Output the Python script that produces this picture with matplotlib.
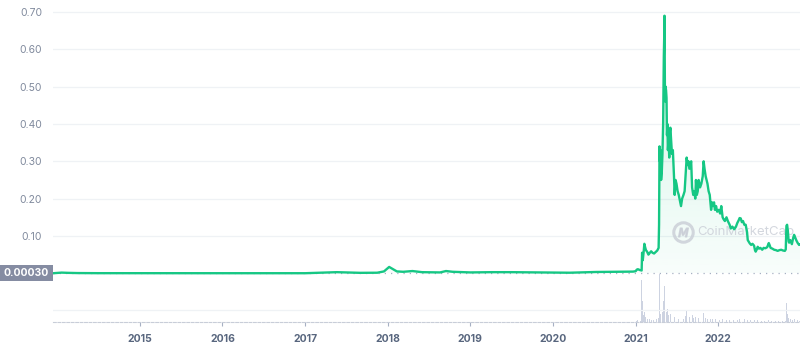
import matplotlib
matplotlib.use("Agg")
import matplotlib.pyplot as plt
import matplotlib.dates as mdates
import matplotlib.transforms as mtransforms
from matplotlib.patches import Rectangle, Polygon
import numpy as np
import pandas as pd

plt.rcParams['font.family'] = ['Inter', 'DejaVu Sans']

# price (USD)
price_dates = [
    "2013-12-15", "2014-01-20", "2014-02-15", "2014-04-01", "2014-07-01", "2015-01-01",
    "2016-01-01", "2017-01-01", "2017-05-20", "2017-06-15", "2017-09-01", "2017-11-15",
    "2017-12-15", "2018-01-07", "2018-02-10", "2018-03-10", "2018-04-20", "2018-06-01",
    "2018-08-20", "2018-09-15", "2018-10-15", "2019-01-01", "2019-04-05", "2019-07-01",
    "2019-12-31", "2020-03-15", "2020-07-10", "2020-12-20",
    "2021-01-01", "2021-01-05", "2021-01-10", "2021-01-20", "2021-01-27", "2021-01-28",
    "2021-01-29", "2021-02-01", "2021-02-05", "2021-02-08", "2021-02-11", "2021-02-15",
    "2021-02-20", "2021-02-26", "2021-03-03", "2021-03-10", "2021-03-16", "2021-03-23",
    "2021-03-30", "2021-04-06", "2021-04-12", "2021-04-14", "2021-04-16", "2021-04-18",
    "2021-04-20", "2021-04-23", "2021-04-26", "2021-04-29", "2021-05-02", "2021-05-05",
    "2021-05-07", "2021-05-08", "2021-05-09", "2021-05-10", "2021-05-12", "2021-05-13",
    "2021-05-15", "2021-05-17", "2021-05-19", "2021-05-21", "2021-05-23", "2021-05-26",
    "2021-05-29", "2021-06-01", "2021-06-03", "2021-06-07", "2021-06-10", "2021-06-14",
    "2021-06-19", "2021-06-22", "2021-06-26", "2021-06-30", "2021-07-05", "2021-07-10",
    "2021-07-15", "2021-07-20", "2021-07-25", "2021-07-31", "2021-08-05", "2021-08-10",
    "2021-08-14", "2021-08-18", "2021-08-22", "2021-08-26", "2021-08-30", "2021-09-03",
    "2021-09-07", "2021-09-12", "2021-09-17", "2021-09-21", "2021-09-24", "2021-09-28",
    "2021-10-02", "2021-10-06", "2021-10-12", "2021-10-18", "2021-10-24", "2021-10-28",
    "2021-11-01", "2021-11-06", "2021-11-10", "2021-11-14", "2021-11-19", "2021-11-24",
    "2021-11-30", "2021-12-04", "2021-12-08", "2021-12-13", "2021-12-17", "2021-12-22",
    "2021-12-27", "2022-01-03", "2022-01-09", "2022-01-14", "2022-01-20", "2022-01-24",
    "2022-01-30", "2022-02-06", "2022-02-12", "2022-02-20", "2022-02-25", "2022-03-04",
    "2022-03-12", "2022-03-20", "2022-03-26", "2022-04-01", "2022-04-05", "2022-04-10",
    "2022-04-15", "2022-04-20", "2022-04-26", "2022-05-02", "2022-05-08", "2022-05-11",
    "2022-05-15", "2022-05-20", "2022-05-26", "2022-06-01", "2022-06-08", "2022-06-12",
    "2022-06-15", "2022-06-20", "2022-06-24", "2022-06-30", "2022-07-06", "2022-07-14",
    "2022-07-20", "2022-07-28", "2022-08-05", "2022-08-12", "2022-08-16", "2022-08-20",
    "2022-08-28", "2022-09-05", "2022-09-13", "2022-09-20", "2022-09-28", "2022-10-06",
    "2022-10-14", "2022-10-22", "2022-10-26", "2022-10-29", "2022-11-01", "2022-11-04",
    "2022-11-08", "2022-11-10", "2022-11-15", "2022-11-22", "2022-11-28", "2022-12-02",
    "2022-12-06", "2022-12-12", "2022-12-18", "2022-12-24", "2022-12-28",
]
price_values = [
    0.0002, 0.0018, 0.0012, 0.0006, 0.0003, 0.0002,
    0.0002, 0.0002, 0.003, 0.0025, 0.0012, 0.0015,
    0.005, 0.017, 0.005, 0.004, 0.006, 0.003,
    0.0023, 0.006, 0.004, 0.0023, 0.003, 0.003,
    0.002, 0.0015, 0.0035, 0.0045,
    0.0057, 0.0095, 0.011, 0.0085, 0.0075, 0.034,
    0.055, 0.035, 0.058, 0.079, 0.071, 0.062,
    0.058, 0.050, 0.054, 0.059, 0.055, 0.053,
    0.057, 0.061, 0.068, 0.13, 0.34, 0.30,
    0.33, 0.25, 0.27, 0.32, 0.40, 0.58,
    0.64, 0.69, 0.57, 0.48, 0.46, 0.50,
    0.49, 0.47, 0.37, 0.40, 0.33, 0.36,
    0.31, 0.38, 0.39, 0.35, 0.32, 0.33,
    0.26, 0.21, 0.25, 0.24, 0.22, 0.21,
    0.195, 0.18, 0.20, 0.21, 0.22, 0.27,
    0.31, 0.29, 0.30, 0.28, 0.29, 0.30,
    0.23, 0.21, 0.22, 0.20, 0.25, 0.21,
    0.22, 0.25, 0.23, 0.24, 0.26, 0.30,
    0.28, 0.26, 0.25, 0.24, 0.22, 0.21,
    0.17, 0.19, 0.18, 0.19, 0.17, 0.18,
    0.165, 0.17, 0.16, 0.18, 0.15, 0.145,
    0.14, 0.15, 0.14, 0.13, 0.12, 0.125,
    0.118, 0.125, 0.135, 0.142, 0.148, 0.147,
    0.137, 0.140, 0.13, 0.13, 0.11, 0.089,
    0.085, 0.080, 0.076, 0.079, 0.074, 0.062,
    0.058, 0.064, 0.071, 0.066, 0.068, 0.063,
    0.068, 0.067, 0.070, 0.081, 0.075, 0.068,
    0.066, 0.063, 0.062, 0.060, 0.062, 0.063,
    0.061, 0.060, 0.064, 0.127, 0.13, 0.115,
    0.085, 0.082, 0.089, 0.078, 0.095, 0.103,
    0.097, 0.088, 0.081, 0.076, 0.077,
]

# volume (billion USD)
volume_dates = [
    "2021-01-03", "2021-01-10", "2021-01-20", "2021-01-28", "2021-01-30", "2021-02-04",
    "2021-02-08", "2021-02-12", "2021-02-20", "2021-03-01", "2021-03-10", "2021-03-20",
    "2021-04-01", "2021-04-10", "2021-04-15", "2021-04-16", "2021-04-18", "2021-04-22",
    "2021-04-28", "2021-05-05", "2021-05-08", "2021-05-10", "2021-05-15", "2021-05-20",
    "2021-05-26", "2021-06-02", "2021-06-10", "2021-06-20", "2021-06-28", "2021-07-08",
    "2021-07-20", "2021-08-01", "2021-08-08", "2021-08-14", "2021-08-20", "2021-08-28",
    "2021-09-07", "2021-09-15", "2021-09-24", "2021-10-05", "2021-10-12", "2021-10-28",
    "2021-11-05", "2021-11-15", "2021-11-28", "2021-12-06", "2021-12-20", "2022-01-05",
    "2022-01-20", "2022-02-05", "2022-02-20", "2022-03-10", "2022-03-28", "2022-04-05",
    "2022-04-25", "2022-05-10", "2022-05-25", "2022-06-10", "2022-06-25", "2022-07-10",
    "2022-07-25", "2022-08-12", "2022-08-25", "2022-09-10", "2022-09-25", "2022-10-10",
    "2022-10-24", "2022-10-29", "2022-11-01", "2022-11-08", "2022-11-15", "2022-11-25",
    "2022-12-05", "2022-12-15", "2022-12-25",
]
volume_values = [
    1.0, 2.5, 1.5, 60, 30, 10,
    14, 7, 5, 4, 3, 3,
    4, 6, 28, 69, 20, 12,
    14, 30, 52, 24, 14, 18,
    10, 12, 8, 7, 6, 5,
    6, 5, 9, 17, 8, 7,
    10, 6, 7, 6, 5, 13,
    6, 5, 4, 5, 4, 3.5,
    4, 3, 3, 2.5, 3, 4.5,
    4, 3.5, 2.5, 2.5, 2.5, 2,
    2, 3, 2, 2, 1.8, 1.5,
    2, 27, 12, 6, 4, 3,
    4, 2.5, 2,
]

year_ticks = ["2015", "2016", "2017", "2018", "2019", "2020", "2021", "2022"]
price_ticks = [0.10, 0.20, 0.30, 0.40, 0.50, 0.60, 0.70]
current_label = 0.0003

green = "#16c784"
grid_c = "#eff2f5"
axis_txt = "#808a9d"

px = pd.to_datetime(price_dates)
pv = np.array(price_values)
vx = pd.to_datetime(volume_dates)
vv = np.array(volume_values)

fig = plt.figure(figsize=(8, 3.44), dpi=100)
ax = fig.add_axes([53 / 800, 22 / 344, 747 / 800, 322 / 344])
axv = fig.add_axes([53 / 800, 22 / 344, 747 / 800, 48 / 344], sharex=ax)
axv.patch.set_alpha(0)

x0, x1 = pd.Timestamp("2013-12-13"), pd.Timestamp("2022-12-28")
ax.set_xlim(x0, x1)
ax.set_ylim(-0.1305, 0.7321)

# price grid
ax.set_yticks(price_ticks)
ax.set_yticklabels([f"{t:.2f}" for t in price_ticks])
ax.grid(axis="y", color=grid_c, linewidth=0.9)
ax.set_axisbelow(True)
ax.tick_params(axis="y", length=0, pad=8, labelsize=7.5, labelcolor=axis_txt)
ax.tick_params(axis="x", bottom=False, labelbottom=False)
for s in ax.spines.values():
    s.set_visible(False)

# gradient fill under the price line
xn = mdates.date2num(px)
poly = Polygon(np.column_stack([np.r_[xn, xn[-1], xn[0]],
                                np.r_[pv, current_label, current_label]]),
               closed=True, facecolor="none", edgecolor="none")
ax.add_patch(poly)
grad = np.zeros((256, 1, 4))
grad[:, 0, :3] = matplotlib.colors.to_rgb(green)
grad[:, 0, 3] = np.linspace(0.2, 0.03, 256)
img = ax.imshow(grad, aspect="auto", origin="upper",
                extent=[xn[0], xn[-1], current_label, max(price_values)], zorder=1)
img.set_clip_path(poly)
ax.set_xlim(x0, x1)
ax.set_ylim(-0.1305, 0.7321)

ax.axhline(current_label, color="#a6b0c3", linestyle=(0, (1, 4)), linewidth=0.9, zorder=2)
ax.plot(px, pv, color=green, linewidth=1.7, zorder=3, solid_joinstyle="round")

# current value tag at the left
blend = mtransforms.blended_transform_factory(fig.transFigure, ax.transData)
ax.add_patch(Rectangle((0, current_label - 0.0215), 53 / 800, 0.043, transform=blend,
                       facecolor="#858ca2", edgecolor="none", clip_on=False, zorder=5))
ax.text(26.5 / 800, current_label, f"{current_label:.5f}", transform=blend, ha="center",
        va="center", color="white", fontsize=7.5, fontweight="bold", zorder=6, clip_on=False)

# watermark
ax.text(0.927, 0.2795, "CoinMarketCap", transform=ax.transAxes, ha="center", va="center",
        fontsize=9.5, color="#c9cdd6", alpha=0.8, zorder=2)
ax.plot([0.843], [0.2795], marker="o", markersize=14, markerfacecolor="none",
        markeredgecolor="#c9cdd6", markeredgewidth=2.2, alpha=0.8, transform=ax.transAxes)
ax.plot([0.843], [0.2795], marker="$M$", markersize=7, color="#c9cdd6", alpha=0.8,
        transform=ax.transAxes)

# volume bars
axv.bar(vx, vv, width=4, color="#cdd3e1", linewidth=0)
axv.set_ylim(0, max(volume_values))
axv.set_yticks([max(volume_values) * 0.25])
axv.grid(axis="y", color=grid_c, linewidth=0.9)
axv.tick_params(axis="y", left=False, labelleft=False)
for k in ["top", "left", "right"]:
    axv.spines[k].set_visible(False)
axv.spines["bottom"].set_color("#c8cdd8")
axv.spines["bottom"].set_linestyle((0, (2.5, 1.5)))
axv.spines["bottom"].set_linewidth(0.8)

axv.set_xticks(pd.to_datetime([f"{y}-01-01" for y in year_ticks]))
axv.set_xticklabels(year_ticks)
axv.tick_params(axis="x", length=3, width=0.8, color="#a6b0c3", pad=6, labelsize=7.5,
                labelcolor="#58667e")
for lab in axv.get_xticklabels():
    lab.set_fontweight("bold")
axv.set_xlim(x0, x1)

fig.savefig("out.png", dpi=100, facecolor="white")
